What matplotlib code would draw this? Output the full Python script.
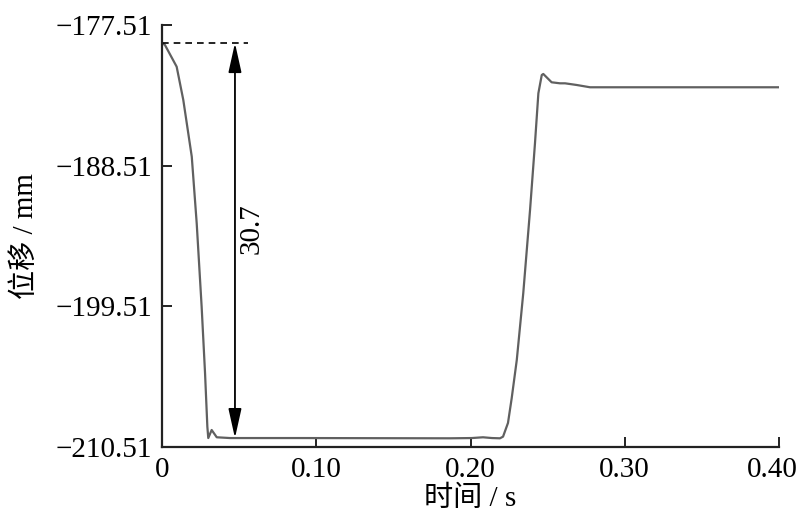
import matplotlib
matplotlib.use("Agg")
import matplotlib.pyplot as plt
import matplotlib.transforms as mtransforms

plt.rcParams['font.family'] = ['Liberation Serif', 'Noto Sans CJK SC', 'DejaVu Sans']
plt.rcParams['axes.unicode_minus'] = True

# data (time in s, displacement in mm)
time_s = [0.0, 0.0019, 0.0095, 0.0138, 0.0193, 0.0225, 0.0257, 0.0279, 0.0294,
          0.0300, 0.0322, 0.0355, 0.0441, 0.0895, 0.1867, 0.2008, 0.2081, 0.2139,
          0.2191, 0.2211, 0.2243, 0.2267, 0.2300, 0.2342, 0.2386, 0.2418, 0.2440,
          0.2462, 0.2472, 0.2526, 0.2580, 0.2613, 0.2688, 0.2775, 0.2969, 0.4000]
disp_mm = [-178.92, -179.07, -180.77, -183.37, -187.81, -193.02, -199.54, -204.72, -208.92,
           -209.81, -209.18, -209.75, -209.81, -209.81, -209.83, -209.81, -209.75, -209.81,
           -209.83, -209.70, -208.63, -206.70, -203.71, -198.49, -191.98, -186.76, -182.85,
           -181.42, -181.34, -181.99, -182.07, -182.07, -182.20, -182.38, -182.38, -182.38]

x_ticks = [0.0, 0.10, 0.20, 0.30, 0.40]
x_ticklabels = ["0", "0.10", "0.20", "0.30", "0.40"]
y_ticks = [-210.51, -199.51, -188.51, -177.51]
y_ticklabels = ["\u2212210.51", "\u2212199.51", "\u2212188.51", "\u2212177.51"]

amp_top = -178.92
amp_bottom = -209.81
amp_label = "30.7"
arrow_t = 0.0473

fig = plt.figure(figsize=(8.0, 5.18), dpi=100)
ax = fig.add_axes([162/800, 1-447/518, (779-162)/800, (447-25)/518])

ax.plot(time_s, disp_mm, color='#606060', lw=1.6)

ax.set_xlim(0, 0.4)
ax.set_ylim(-210.51, -177.51)
ax.set_xticks(x_ticks)
ax.set_xticklabels(x_ticklabels)
ax.set_yticks(y_ticks)
ax.set_yticklabels(y_ticklabels)

for s in ['top', 'right']:
    ax.spines[s].set_visible(False)
for s in ['left', 'bottom']:
    ax.spines[s].set_linewidth(1.6)
    ax.spines[s].set_color('#222222')

ax.tick_params(direction='in', length=7, width=1.4, labelsize=21,
               colors='#222222', labelcolor='black')
ax.tick_params(axis='x', pad=7)
ax.tick_params(axis='y', pad=7)

# shift the last x tick label slightly left so it fits (as in the reference)
last = ax.get_xticklabels()[-1]
last.set_transform(last.get_transform() + mtransforms.ScaledTranslation(-7/100, 0, fig.dpi_scale_trans))

ax.set_xlabel("时间 / s", fontsize=21, labelpad=2)
ax.set_ylabel("位移 / mm", fontsize=21, labelpad=12)

# dashed reference line
ax.plot([0, 0.0558], [amp_top, amp_top], color='black', lw=1.2, ls=(0, (4, 3)))
# double arrow
ax.annotate('', xy=(arrow_t, amp_top), xytext=(arrow_t, amp_bottom),
            arrowprops=dict(arrowstyle='<|-|>,head_length=0.9,head_width=0.2',
                            color='black', lw=1.3, shrinkA=0, shrinkB=0,
                            mutation_scale=20))
ax.text(0.0583, (amp_top + amp_bottom) / 2 + 0.9, amp_label, rotation=90,
        ha='center', va='center', fontsize=21)

fig.savefig("out.png", dpi=100)
